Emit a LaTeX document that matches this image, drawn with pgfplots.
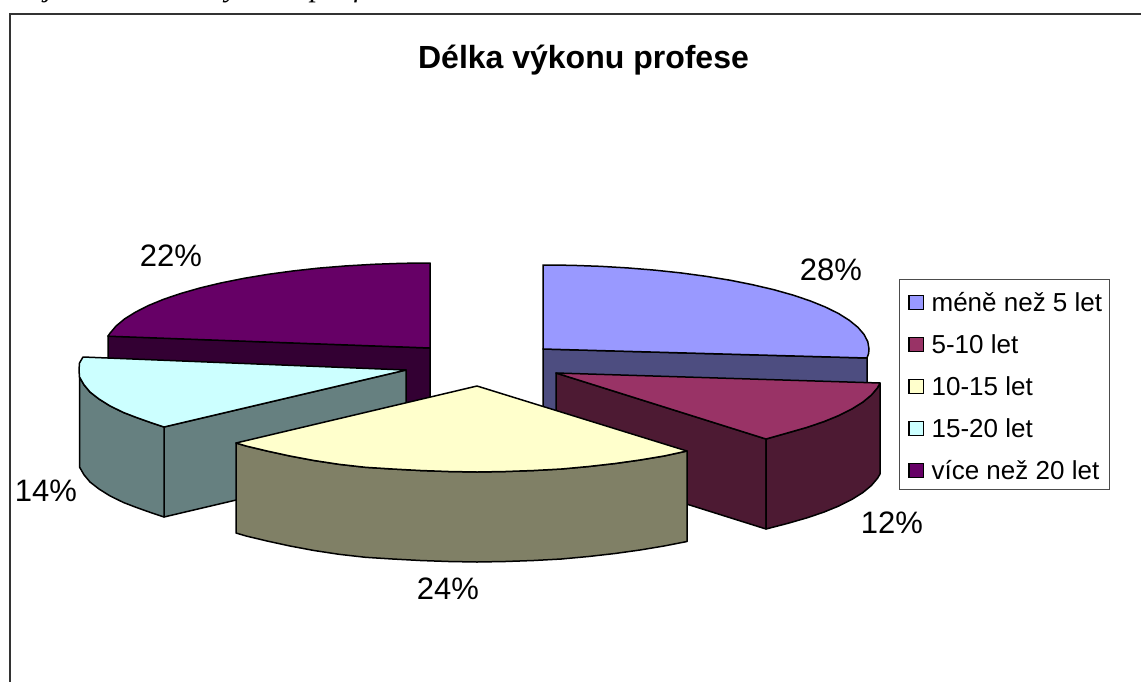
\documentclass[border=0pt]{standalone}
\usepackage{fontspec}
\setmainfont{Liberation Sans}
\newfontfamily\capfont{Liberation Serif}
\usepackage{pgfplots}
\pgfplotsset{compat=1.18}
\definecolor{cBlue}{HTML}{9999FF}
\definecolor{cBlueS}{HTML}{4D4D80}
\definecolor{cMar}{HTML}{993366}
\definecolor{cMarS}{HTML}{4D1A33}
\definecolor{cYel}{HTML}{FFFFCC}
\definecolor{cYelS}{HTML}{808066}
\definecolor{cCya}{HTML}{CCFFFF}
\definecolor{cCyaS}{HTML}{668080}
\definecolor{cPur}{HTML}{660066}
\definecolor{cPurS}{HTML}{330033}
\pgfplotsset{
  face/.style={draw=black, line width=1.5pt, line join=round, forget plot},
  every axis legend/.append style={font=\fontsize{26}{26}\selectfont},
}
\begin{document}
\begin{tikzpicture}[x=1pt,y=1pt]
\clip (0,0) rectangle (1141,681);
\begin{axis}[
  at={(0,0)}, anchor=south west,
  scale only axis, width=1141pt, height=681pt,
  xmin=0, xmax=1141, ymin=0, ymax=681, y dir=reverse,
  axis lines=none, clip=false,
  legend style={at={(axis cs:899.5,281.5)}, anchor=north west,
    draw=none, fill=none, line width=0.8pt, inner xsep=6pt, inner ysep=10.5pt,
    row sep=21.5pt, cells={anchor=west}, nodes={inner sep=0pt}},
  legend cell align=left,
  legend image code/.code={\draw[line width=1.3pt,#1] (3pt,-7pt) rectangle (17.5pt,7pt);
    \path[draw=none,fill=none] (0pt,0pt) -- (25.7pt,0pt);},
]
% frame: only left and top survive the crop
\addplot[forget plot, draw=black!80, line width=1.5pt] coordinates {(10,700) (10,14) (1160,14)};
% legend box
\addplot[forget plot, draw=black!70, line width=0.8pt] coordinates {(899.5,279.5) (1109,279.5) (1109,489) (899.5,489)} -- cycle;

% purple, 22 %
\addplot[face, fill=cPurS] coordinates {(108,336) (430,348) (430,438) (108,426)} -- cycle;
\addplot[face, fill=cPur] coordinates {(430,348) (430,263) (401.7,263.3) (373.6,264.3) (345.9,265.9) (318.8,268.1)
  (292.6,271) (267.5,274.4) (243.6,278.4) (221.1,282.9) (200.2,287.9) (181,293.4) (163.8,299.2) (148.5,305.5)
  (135.5,312.1) (124.6,318.9) (116.1,326) (110,333.2) (108,336.2)} -- cycle;

% blue, 28 %
\addplot[face, fill=cBlueS] coordinates {(543,349) (867,358) (867,448) (543,439)} -- cycle;
\addplot[face, fill=cBlue] coordinates {(543,349) (543,265) (571.4,265.3) (600,266.3) (627.4,267.9) (654.5,270.1)
  (680.8,272.9) (706,276.3) (730,280.2) (752.5,284.7) (773.5,289.6) (792.7,295) (810,300.8) (825.3,307) (838.5,313.5)
  (849.3,320.3) (857.9,327.3) (864,334.4) (867.8,341.7) (869,349) (868.6,353.4) (867,358)} -- cycle;

% cyan, 14 %
\addplot[face, fill=cCyaS] coordinates {(164,427) (406,370) (406,460) (164,517)} -- cycle;
\addplot[face, fill=cCyaS] coordinates {(79.5,377) (84,384.8) (90,392) (99,399) (110,405.9) (123.5,412.5) (136.5,417.5)
  (150,422.3) (164,427) (164,517) (150,512.3) (136.5,507.5) (123.5,502.5) (110,495.9) (99,489) (90,482) (84,474.8)
  (79.5,467)} -- cycle;
\addplot[face, fill=cCya] coordinates {(406,370) (83,357) (79.5,363) (79,370) (79.5,377) (84,384.8) (90,392) (99,399)
  (110,405.9) (123.5,412.5) (136.5,417.5) (150,422.3) (164,427)} -- cycle;

% maroon, 12 %
\addplot[face, fill=cMarS] coordinates {(556,373) (766,439) (766,529) (556,463)} -- cycle;
\addplot[face, fill=cMarS] coordinates {(880,383) (877.5,387.8) (871.4,395) (862.8,402.1) (851.9,408.9) (838.8,415.5)
  (823.4,421.8) (806.1,427.6) (786.9,433.1) (766,439) (766,529) (786.9,523.6) (806.1,518.1) (823.4,512.3) (838.8,506)
  (851.9,499.4) (862.8,492.6) (871.4,485.5) (877.5,478.3) (880,474)} -- cycle;
\addplot[face, fill=cMar] coordinates {(556,373) (880,383) (877.5,387.8) (871.4,395) (862.8,402.1) (851.9,408.9)
  (838.8,415.5) (823.4,421.8) (806.1,427.6) (786.9,433.1) (766,439)} -- cycle;

% yellow, 24 %
\addplot[face, fill=cYelS] coordinates {(236,443) (246.5,446.1) (267.5,451.1) (290,456) (314,460.5) (339,464.3)
  (365.5,467.3) (392.6,469) (420.4,470.5) (448.6,471.5) (477,472) (505.4,471.5) (533.6,470.5) (561.4,469) (588.5,466.5)
  (615,463.5) (640,460) (664,456) (687,451) (687,541.5) (664,546) (640,550) (615,553.5) (588.5,556.5) (561.4,559)
  (533.6,560.5) (505.4,561.5) (477,562) (448.6,561.5) (420.4,560.5) (392.6,559) (365.5,557.3) (339,554.3) (314,550.5)
  (290,546) (267.5,541.1) (246.5,536.1) (236,533)} -- cycle;
\addplot[face, fill=cYel] coordinates {(477,386) (236,443) (246.5,446.1) (267.5,451.1) (290,456) (314,460.5) (339,464.3)
  (365.5,467.3) (392.6,469) (420.4,470.5) (448.6,471.5) (477,472) (505.4,471.5) (533.6,470.5) (561.4,469) (588.5,466.5)
  (615,463.5) (640,460) (664,456) (687,451)} -- cycle;

% percentage labels
\addplot[forget plot, draw=none, point meta=explicit symbolic,
  nodes near coords, nodes near coords align={center},
  every node near coord/.append style={font=\fontsize{31}{31}\selectfont, anchor=center, inner sep=0pt}]
  coordinates {(831,270) [28\%] (892,523) [12\%] (448,589) [24\%] (46,491) [14\%] (171,256) [22\%]};

\node[font=\bfseries\fontsize{32}{32}\selectfont] at (axis cs:583.5,60) {Délka výkonu profese};

% descenders of the caption line, cut off by the crop
\node[font=\capfont\itshape\fontsize{30}{30}\selectfont, anchor=base] at (axis cs:49,-4) {j};
\node[font=\capfont\itshape\fontsize{30}{30}\selectfont, anchor=base] at (axis cs:232,-4) {y};
\node[font=\capfont\itshape\fontsize{30}{30}\selectfont, anchor=base] at (axis cs:318,-4) {p};
\node[font=\capfont\itshape\fontsize{30}{30}\selectfont, anchor=base] at (axis cs:358,-4) {f};

\addlegendimage{fill=cBlue}
\addlegendentry{méně než 5 let}
\addlegendimage{fill=cMar}
\addlegendentry{5-10 let}
\addlegendimage{fill=cYel}
\addlegendentry{10-15 let}
\addlegendimage{fill=cCya}
\addlegendentry{15-20 let}
\addlegendimage{fill=cPur}
\addlegendentry{více než 20 let}
\end{axis}
\end{tikzpicture}
\end{document}
